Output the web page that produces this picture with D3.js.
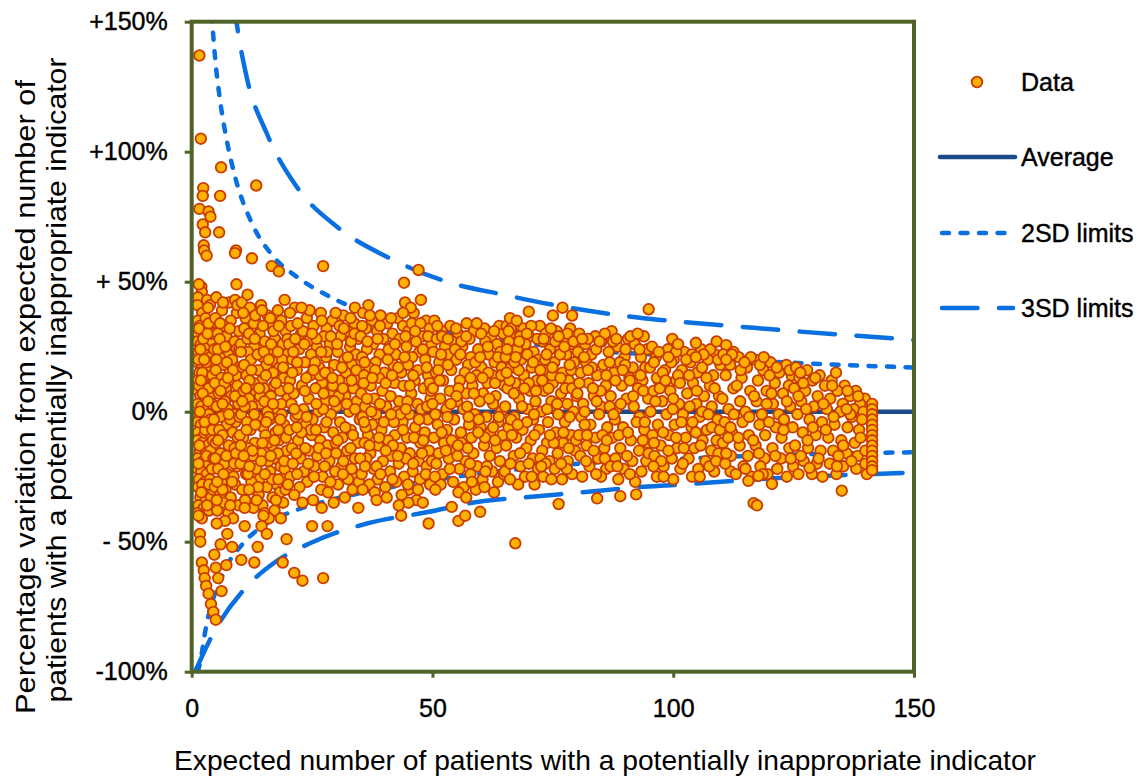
<!DOCTYPE html>
<html>
<head>
<meta charset="utf-8">
<script src="https://cdn.jsdelivr.net/npm/d3@7"></script>
<style>
body{margin:0;background:#fff;}
svg{display:block;font-family:"Liberation Sans",Arial,sans-serif;}
</style>
</head>
<body>
<script>
var xTicks = [0, 50, 100, 150];
var yTicks = [-100, -50, 0, 50, 100, 150];
var yTickLabels = ["-100%", "- 50%", "0%", "+ 50%", "+100%", "+150%"];
var legendLabels = ["Data", "Average", "2SD limits", "3SD limits"];
var xTitle = "Expected number of patients with a potentially inappropriate indicator";
var yTitle = ["Percentage variation from expected number of", "patients with a potentially inappropriate indicator"];

// [expected, % variation]
var average = [[0, 0], [150, 0]];
var upper2SD = [[3.9,160],[4.84,136.5],[5.88,119.9],[7.27,104.5],[9.0,90.4],[12.5,72.5],[17.0,59.6],[21.8,51.9],[28.7,44.2],[44.3,34],[53,30.8],[58.5,28.8],[80,24.4],[89,22.7],[98.7,21.8],[120.9,19.2],[134.7,18],[150,17]];
var upper3SD = [[8.6,160],[9.35,149.4],[11.4,128.8],[15.6,107],[21.8,86.5],[30.1,71.2],[40.5,59.6],[53,50.0],[64.7,45],[76.9,40.5],[89.3,37],[97.3,35.3],[113.9,32.7],[126.4,30.8],[138.9,29.1],[150,27.6]];
var lower2SD = [[1.2,-100],[1.7,-97],[2.76,-85],[6.6,-62],[10.7,-50.6],[15.6,-43],[21.8,-37.8],[28.7,-34],[36.4,-30.8],[50.2,-26.3],[67,-22.3],[84,-19.5],[100.1,-18.2],[120.9,-16.7],[150,-15.6]];
var lower3SD = [[0.7,-100],[4.5,-85.2],[11.4,-67.3],[17,-58.3],[25.3,-50],[36.4,-43],[49,-38.6],[60,-34.5],[70,-32.8],[81,-31],[93,-29],[100.1,-28.2],[120.9,-25.6],[150,-23.4]];

var pointsA = [[1.6,137],[1.9,105],[2.4,86],[2.3,83],[1.6,78],[3.5,77],[3.9,75],[2.3,72],[2.8,69],[2.5,64],[2.6,62],[3.1,60],[2.0,48],[2.1,46],[1.5,49],[1.3,44],[3.2,43],[3.8,41],
[1.2,41],[2.2,38],[3.4,40],[1.3,35],[1.7,33],[2.9,36],[4.1,34],[1.3,30],[2.5,31],[3.7,29],[1.2,27],[1.9,26],[3.1,25],[4.3,27],[1.4,23],[2.7,22],[3.9,21],[1.2,19],[2.1,18],[3.3,17],[4.4,19],[1.6,15],[2.8,14],[3.6,13],[1.2,12],[2.3,11],[4.0,10],[1.3,8],[3.0,8],[1.8,6],[2.6,5],[3.8,6],[1.2,3],[2.0,2],[3.2,1],[4.2,3],[1.5,-1],[2.4,-2],[3.5,-1],[1.2,-4],[1.9,-5],[3.0,-6],[4.1,-4],[1.3,-8],[2.6,-9],[3.7,-8],[1.2,-11],[2.2,-12],[3.3,-13],[4.4,-11],[1.7,-15],[2.9,-16],[3.9,-15],[1.2,-18],[2.4,-19],[3.5,-20],[1.2,-22],[2.0,-23],[3.1,-24],[4.2,-22],[1.5,-26],[2.7,-27],[3.8,-26],[1.3,-29],[2.3,-30],[3.4,-31],[1.8,-33],[2.9,-34],[4.0,-33],[1.4,-36],[2.5,-37],[3.6,-38],[1.2,-39],[2.1,-41],[1.4,-40],[1.7,-47],[1.8,-50],[2.1,-58],[2.5,-61],[2.7,-64],[3.0,-67],[3.5,-70],[4.0,-74],[4.5,-77],[5.0,-80],
[1.5,32],[2.4,28],[1.4,20],[3.0,19],[2.2,15],[1.5,10],[3.5,9],[2.3,7],[1.7,0],[3.9,-3],[2.8,-7],[1.6,-13],[3.1,-17],[2.2,-28],[3.2,-36],[4.1,30],[4.4,-30],[3.5,34],
[1.8,24],[3.3,30],[2.6,20],[4.3,14],[1.9,12],[3.4,4],[2.7,-4],[4.3,-7],[1.4,-20],[3.6,-28],[2.0,-31],[4.5,-18]];

var pointsB = [[5.1,44],[7.8,42],[6.3,39],[9.4,38],[4.9,36],[8.1,35],[6.7,33],[9.8,31],[5.4,30],[7.2,29],[8.9,27],[6.0,26],[4.7,24],[9.3,24],[7.6,22],[5.8,21],[8.4,20],[6.6,18],[9.9,17],[5.0,16],[7.9,15],[6.2,13],[8.7,12],[4.8,11],[9.5,10],[7.1,9],[5.6,7],[8.2,6],[6.9,4],[9.7,3],[5.2,2],[7.5,1],[8.8,-1],[6.1,-2],[4.6,-3],[9.1,-4],[7.3,-5],[5.7,-7],[8.5,-8],[6.4,-9],[9.6,-10],[5.0,-12],[7.7,-13],[8.9,-14],[6.0,-16],[4.9,-18],[8.3,-18],[6.8,-20],[9.4,-21],[5.5,-22],[7.4,-24],[8.7,-25],[6.2,-27],[4.8,-29],[9.0,-28],[7.0,-30],[5.9,-32],[8.1,-33],[6.5,-35],[9.7,-36],[5.3,-38],[7.6,-39],[8.6,-41],[6.9,-42],[5.4,24],[6.8,11],[8.0,-3],[7.2,-17],[5.9,34],[9.2,14],[6.4,3],[8.4,-27],[7.3,19],[5.2,-34],
[5.8,28],[7.0,25],[8.6,16],[6.0,8],[9.0,6],[7.7,-1],[5.5,-11],[9.2,-16],[6.6,-24],[8.0,-36],[7.9,32],[9.9,24],[5.1,20],[6.4,-30],[8.8,-20],[9.9,-2],[7.5,13],[5.3,-27],
[6.1,94],[5.9,83],[5.7,69],[9.2,62],[9.0,61],[9.3,49],[9.0,43],[9.5,41],[6.5,42],[5.2,-43],[7.4,-47],[6.0,-51],[8.4,-52],[4.7,-55],[7.2,-59],[5.0,-60],[5.5,-64],[6.2,-69]];

var pointsC = [[10.4,42],[14.4,41],[17.9,39],[12.1,40],[19.3,43],[15.8,37],[11.2,36],[18.6,35],[13.5,34],[16.7,33],[10.9,32],[19.5,31],[14.1,30],[12.6,29],[17.3,28],[15.2,27],[10.2,26],[18.9,26],[13.0,25],[16.1,24],[11.7,23],[19.8,22],[14.8,21],[12.3,20],[17.6,19],[15.5,18],[10.6,17],[18.2,17],[13.8,16],[16.9,15],[11.4,14],[19.1,13],[14.6,12],[12.9,11],[17.1,10],[15.0,9],[10.8,8],[18.4,8],[13.3,7],[16.4,6],[11.9,5],[19.6,4],[14.3,3],[12.5,2],[17.8,1],[15.7,0],[10.3,-1],[18.7,-1],[13.6,-2],[16.2,-3],[11.5,-4],[19.2,-5],[14.9,-6],[12.2,-7],[17.4,-8],[15.3,-9],[10.7,-10],[18.1,-11],[13.1,-12],[16.6,-13],[11.8,-14],[19.7,-15],[14.5,-16],[12.7,-17],[17.0,-18],[15.9,-19],[10.1,-20],[18.5,-21],[13.4,-22],[16.3,-23],[11.3,-24],[19.4,-25],[14.0,-26],[12.4,-27],[17.7,-28],[15.6,-29],[10.5,-30],[18.3,-31],[13.9,-32],[16.8,-33],[11.1,-34],[19.0,-35],[14.7,-36],[12.8,-37],[17.2,-38],[15.1,-39],[16.0,-41],
[11.6,28],[16.5,26],[13.7,22],[18.8,20],[10.9,18],[15.4,14],[12.0,12],[17.5,11],[14.2,6],[19.9,5],[11.0,2],[16.0,-2],[13.2,-5],[18.0,-7],[10.0,-9],[15.8,-12],[12.6,-15],[17.9,-16],[14.4,-19],[19.3,-22],[11.7,-24],[16.7,-26],[13.8,-29],[10.2,-13],[18.6,3],[12.9,34],[17.0,31],[15.1,4],[11.3,9],[19.6,-10],
[10.7,38],[13.2,37],[16.3,36],[18.1,33],[11.9,30],[15.0,23],[17.9,23],[12.4,16],[19.0,17],[14.0,9],[16.9,3],[10.5,4],[13.0,-1],[18.4,-3],[15.5,-4],[11.4,-7],[17.2,-11],[14.7,-12],[12.0,-21],[16.4,-17],[19.2,-19],[10.8,-17],[15.2,-24],[18.0,-26],[13.5,-34],[11.9,-30],[17.5,-34],[10.2,23],[14.8,33],[19.9,28],[16.0,20],[13.1,28],[11.0,-37],[19.5,-30],[14.9,-40],
[12.5,59],[13.4,87],[16.6,56],[18.1,54],[11.6,45],[14.6,39],[10.3,-57],[13.0,-58],[11.0,-44],[14.5,-44],[15.6,-47],[13.7,-52],[18.5,-41],[19.7,-49],[18.9,-58]];

var pointsD = [[21.4,40],[26.8,38],[31.5,37],[23.9,36],[29.2,35],[33.8,34],[20.6,33],[25.3,33],[28.0,32],[32.4,31],[22.7,30],[27.4,29],[30.9,29],[34.6,28],[24.1,27],[20.2,26],[28.7,26],[32.9,25],[26.0,25],[22.3,24],[30.3,23],[34.1,22],[24.8,22],[27.9,21],[20.9,20],[31.7,20],[23.5,19],[29.6,18],[33.3,18],[26.5,17],[21.8,16],[28.4,15],[32.0,15],[24.6,14],[34.8,13],[20.4,12],[30.6,12],[27.1,11],[22.9,10],[33.6,9],[25.7,9],[29.0,8],[21.2,7],[31.9,6],[24.3,5],[27.8,4],[34.3,4],[20.7,3],[30.1,2],[23.2,1],[26.3,0],[32.7,0],[28.9,-1],[21.6,-2],[34.9,-3],[25.1,-3],[30.8,-4],[23.7,-5],[27.5,-6],[33.0,-7],[20.3,-7],[29.4,-8],[24.9,-9],[31.3,-10],[22.1,-11],[26.7,-11],[34.5,-12],[28.2,-13],[20.8,-14],[32.3,-15],[24.4,-15],[30.0,-16],[26.1,-17],[22.6,-18],[33.9,-18],[28.6,-19],[21.0,-20],[31.1,-21],[25.5,-21],[23.3,-23],[29.8,-23],[34.0,-24],[27.2,-25],[20.5,-25],[32.5,-26],[24.0,-27],[30.4,-28],[22.4,-29],[26.9,-30],[33.4,-30],[28.3,-31],[21.3,-32],[31.8,-33],[25.2,-34],[23.0,-35],[29.5,-35],[27.0,-37],
[23.1,31],[30.7,33],[25.9,28],[33.1,27],[21.1,23],[28.1,23],[31.2,17],[23.8,13],[26.6,14],[34.2,16],[20.1,9],[29.3,10],[32.2,3],[22.0,-1],[27.3,1],[24.7,-7],[33.5,-9],[29.9,-12],[21.7,-16],[26.4,-14],[31.5,-19],[24.2,-20],[28.8,-27],[33.2,-22],[22.8,-8],[30.5,6],[25.6,19],[20.0,-28],[34.7,-27],[27.7,15],
[20.4,38],[24.5,39],[29.9,38],[33.0,36],[22.0,34],[27.0,35],[31.6,32],[25.0,30],[28.9,29],[21.5,28],[33.8,30],[23.4,26],[30.2,26],[26.9,23],[21.9,19],[32.4,21],[25.3,16],[29.2,13],[20.9,15],[33.2,12],[23.5,8],[27.4,7],[31.4,9],[25.9,3],[29.6,4],[21.3,1],[33.9,1],[23.9,-2],[28.0,-4],[31.9,-6],[25.8,-7],[21.8,-6],[30.3,-11],[27.9,-16],[23.6,-14],[33.0,-14],[25.4,-25],[31.4,-24],[21.9,-24],[27.6,-21],
[27.3,56],[21.3,-62],[23.0,-65],[27.3,-64],[25.0,-44],[28.2,-44],[34.6,-37],[33.9,40],[22.8,40]];

var pointsE = [[35.6,38],[39.2,37],[42.8,36],[46.1,38],[48.7,35],[37.4,35],[44.3,42],[45.5,40],[47.6,43],[37.0,37],[40.6,34],[43.9,33],[36.2,32],[49.4,32],[38.5,31],[41.7,30],[45.0,31],[47.9,29],[35.1,29],[39.8,28],[43.2,28],[46.6,27],[37.7,26],[49.8,26],[41.1,25],[44.6,25],[36.4,24],[47.3,23],[39.0,22],[42.4,22],[45.8,21],[35.4,21],[48.5,20],[38.2,19],[41.9,18],[44.9,18],[36.8,17],[47.0,16],[40.0,15],[43.5,15],[49.1,14],[35.8,14],[38.9,13],[46.3,12],[42.1,11],[37.2,10],[44.0,10],[48.2,9],[39.6,8],[35.2,7],[45.6,7],[41.3,6],[49.6,5],[37.9,5],[43.1,4],[46.9,3],[36.0,2],[40.4,2],[47.7,1],[42.7,0],[38.3,-1],[45.2,-1],[35.5,-2],[49.0,-3],[41.0,-3],[43.8,-4],[37.5,-5],[46.4,-6],[39.4,-7],[48.4,-8],[36.6,-9],[42.2,-9],[44.7,-10],[40.8,-11],[35.9,-12],[47.5,-12],[38.7,-13],[43.4,-14],[49.3,-15],[37.1,-16],[45.3,-16],[41.5,-17],[36.3,-18],[47.1,-19],[39.7,-19],[43.0,-20],[48.8,-21],[37.8,-22],[45.9,-23],[41.2,-23],[35.3,-24],[44.1,-25],[38.6,-26],[47.4,-26],[42.5,-27],[36.9,-28],[49.5,-28],[40.2,-29],[45.1,-30],[38.0,-31],[43.6,-32],[46.7,-34],[45.0,-35],[48.0,-35],
[36.5,27],[40.9,24],[44.4,29],[48.0,24],[38.1,16],[42.9,17],[46.0,14],[35.7,11],[40.3,11],[44.8,4],[48.9,2],[37.3,0],[39.9,-4],[43.3,-1],[46.2,-10],[36.1,-6],[41.8,-13],[44.5,-18],[38.4,-21],[47.8,-16],[35.0,-18],[42.0,-4],[49.7,8],[39.1,33],[45.7,34],
[35.4,33],[41.4,36],[43.9,38],[47.5,34],[38.6,28],[42.2,26],[46.4,31],[49.1,29],[35.9,19],[40.7,20],[44.2,21],[48.8,17],[37.5,13],[41.6,14],[45.3,10],[49.4,11],[36.4,5],[39.1,3],[44.5,1],[47.2,-3],[41.4,-1],[35.8,-4],[38.9,-10],[43.9,-7],[48.1,-11],[40.3,-15],[46.0,-20],[36.9,-13],[42.8,-17],[39.2,-24],[44.9,-28],[48.6,-24],[36.0,-21],[41.7,-26],[38.4,-34],[47.0,-30],[35.5,-30],[43.0,-36],[40.5,-33],[49.9,-19],
[47.1,54.5],[44.1,49.6],[43.5,-40],[49.2,-43],[36.7,41]];

var pointsF = [[50.4,35],[53.7,33],[57.1,34],[60.8,32],[63.9,33],[51.9,31],[55.3,30],[58.6,31],[62.2,29],[64.7,30],[50.9,28],[54.1,27],[57.7,28],[61.0,27],[63.4,26],[52.6,25],[56.2,25],[59.5,24],[64.1,23],[50.2,23],[53.3,22],[58.0,21],[61.7,22],[55.0,20],[62.9,19],[51.4,19],[57.4,18],[60.2,17],[64.4,17],[53.9,16],[50.7,15],[56.7,15],[59.1,14],[62.5,14],[52.2,12],[55.7,12],[61.4,11],[64.9,10],[58.3,10],[50.1,9],[53.6,8],[57.0,7],[60.5,7],[63.1,6],[51.6,5],[55.1,4],[59.8,4],[62.6,3],[52.9,1],[56.4,1],[64.3,0],[50.6,-1],[58.8,-1],[61.2,-2],[54.5,-3],[63.7,-4],[51.1,-5],[57.6,-5],[60.0,-6],[53.0,-7],[55.9,-8],[62.0,-8],[64.6,-9],[50.3,-10],[58.1,-10],[52.4,-12],[56.0,-12],[60.7,-13],[63.3,-14],[54.8,-15],[51.3,-16],[58.5,-16],[61.9,-17],[53.4,-18],[56.9,-19],[64.0,-19],[50.8,-20],[59.3,-21],[55.6,-22],[62.4,-23],[52.1,-24],[57.9,-24],[60.4,-26],[54.3,-27],[63.6,-27],[51.7,-28],[56.5,-29],[59.0,-30],[62.8,-31],
[52.0,29],[56.0,27],[60.1,30],[51.2,16],[54.7,24],[58.9,19],[63.0,11],[55.4,9],[61.6,15],[50.0,3],[57.2,2],[53.1,-2],[60.9,-10],[54.0,-11],[63.8,-2],[57.3,-14],[50.5,-25],[61.3,-21],[55.2,-17],[59.6,-3],
[51.0,33],[54.9,32],[59.2,34],[62.8,31],[53.2,28],[57.0,29],[61.5,25],[55.8,22],[59.9,21],[63.6,21],[51.8,22],[53.2,18],[57.9,13],[60.4,13],[64.3,14],[51.5,12],[55.0,6],[58.6,7],[61.8,5],[53.8,3],[57.5,-2],[62.6,-6],[51.9,-8],[55.3,-13],[59.5,-8],[63.0,-11],[52.8,-15],[57.8,-20],[61.0,-23],[53.6,-22],[58.2,-27],[64.8,-24],[50.6,-30],[55.4,-31],[60.8,-29],
[55.4,-42],[56.8,-40],[59.9,-38.5],[54.0,-36.6],[57.0,-33]];

var pointsG = [[65.4,33],[68.9,32],[72.3,33],[75.8,31],[78.6,32],[66.7,30],[70.1,29],[73.5,30],[77.2,28],[79.7,29],[65.9,27],[69.3,26],[72.9,27],[76.4,25],[79.1,26],[67.6,24],[71.0,23],[74.4,24],[77.8,22],[65.2,21],[68.4,20],[72.0,20],[75.3,19],[79.4,19],[66.3,17],[70.6,17],[73.9,16],[77.0,15],[69.0,14],[67.2,11],[71.7,12],[75.0,11],[78.3,12],[65.6,9],[70.3,8],[73.2,8],[76.7,7],[79.9,6],[68.0,5],[71.4,4],[74.7,4],[78.0,3],[65.1,2],[69.8,1],[72.6,0],[76.1,-1],[79.3,0],[67.0,-2],[70.9,-3],[74.0,-4],[77.5,-4],[65.8,-6],[68.7,-7],[72.1,-7],[75.6,-8],[78.8,-9],[67.4,-10],[70.4,-11],[73.8,-12],[77.1,-12],[65.3,-13],[69.5,-14],[72.8,-15],[76.0,-16],[79.6,-15],[66.9,-17],[70.8,-18],[74.3,-19],[78.1,-19],[68.3,-21],[71.9,-22],[75.4,-22],[65.0,-23],[69.2,-25],[73.0,-25],[76.9,-26],[79.0,-24],[67.8,-28],[71.2,-28],
[66.0,12],[74.8,14],[68.2,29],[71.5,8],[77.6,9],[73.4,20],[66.5,-9],[78.5,-2],[70.0,-20],[75.9,3],[69.6,-4],[72.4,-18],[76.5,22],[67.9,16],[79.8,-11],
[66.3,32],[70.5,33],[74.6,32],[78.0,30],[68.0,27],[71.8,28],[75.5,27],[65.5,24],[69.7,22],[73.7,22],[77.4,25],[67.0,19],[72.4,16],[78.8,16],[66.9,7],[70.0,11],[74.1,9],[79.0,9],[68.6,2],[73.8,1],[77.2,-8],[66.3,-3],[71.2,-9],[75.2,-12],[68.2,-16],[73.5,-20],[77.9,-22],[66.2,-20],[70.6,-25],[74.7,-26],
[65.8,31],[69.6,30],[73.1,28],[76.2,29],[79.3,27],[67.3,21],[70.9,19],[74.9,17],[78.5,18],[65.4,15],[69.1,9],[72.8,12],[76.6,13],[67.7,-5],[71.1,-1],[74.4,-9],[78.3,-14],[66.1,-26],[72.6,-21],[76.7,-20],
[66.1,36],[67.5,35],[70.0,38.5],[75.0,37],[77.0,40],[79.0,37],[67.2,-50.6],[76.2,-35.5]];

var pointsH = [[80.5,30],[83.8,29],[87.2,31],[90.6,28],[93.9,29],[81.7,26],[85.1,27],[88.4,25],[92.0,26],[94.6,24],[80.2,23],[83.0,22],[86.6,23],[89.9,21],[93.3,21],[81.9,19],[85.5,18],[88.9,19],[91.6,17],[94.2,17],[80.8,15],[84.2,14],[87.7,15],[90.9,13],[93.6,12],[82.4,11],[86.0,10],[89.3,10],[92.7,9],[80.1,7],[83.5,6],[87.0,6],[90.3,5],[94.8,5],[81.3,3],[85.0,2],[88.2,1],[91.8,2],[84.6,-1],[80.9,-2],[87.9,-3],[93.0,-2],[82.8,-5],[86.3,-6],[89.6,-6],[94.0,-7],[80.4,-9],[83.9,-10],[87.4,-10],[91.2,-11],[82.0,-13],[85.7,-14],[89.0,-14],[92.9,-15],[80.7,-17],[84.4,-18],[88.0,-18],[91.5,-19],[94.4,-19],[82.6,-21],[86.1,-22],[89.7,-22],[93.4,-23],[81.1,-25],[85.0,-25],[88.6,-26],[92.1,-27],
[83.1,17],[90.1,24],[86.8,2],[81.6,-5],[92.4,-4],[84.9,8],[88.7,-9],[91.0,12],[85.8,-18],[94.7,-12],
[82.3,28],[85.8,30],[91.1,29],[84.0,24],[87.5,27],[93.0,24],[81.5,21],[86.8,19],[90.0,18],[83.3,9],[88.0,12],[93.8,8],[81.6,0],[89.1,3],[85.3,-9],[90.6,-8],[83.5,-15],[93.7,-11],[87.0,-21],[84.0,-24],
[81.1,28],[84.7,27],[88.2,28],[92.6,30],[82.3,16],[86.1,14],[89.5,16],[93.2,14],[80.5,11],[84.1,4],[87.6,-1],[91.7,6],[82.1,-9],[86.2,-11],[90.4,-17],[94.1,-4],[81.9,-19],[88.4,-21],[91.0,-24],[94.9,-16],
[84.2,-33.3],[89.0,-32.5],[92.3,-31.8],[94.9,39.4]];

var pointsI = [[95.6,25],[98.9,24],[102.3,23],[105.8,24],[108.7,22],[96.4,21],[100.1,20],[103.6,19],[107.2,20],[109.8,18],[95.2,17],[98.3,16],[101.8,16],[105.0,15],[108.3,14],[97.0,12],[100.6,12],[104.1,11],[107.6,10],[95.9,8],[99.4,8],[102.9,7],[106.4,6],[109.5,6],[97.7,4],[101.2,3],[104.8,3],[108.0,2],[95.3,0],[98.6,-1],[102.0,-1],[105.5,-2],[109.2,-3],[96.8,-5],[100.3,-5],[103.8,-6],[107.0,-7],[95.7,-9],[99.1,-9],[102.6,-10],[106.1,-11],[109.0,-11],[97.4,-13],[100.8,-14],[104.4,-14],[107.9,-15],[96.1,-17],[99.7,-18],[103.2,-18],[106.7,-19],[98.0,-21],[101.5,-22],[105.2,-22],[108.5,-23],[96.6,-25],[100.0,-26],[103.9,-25],
[97.2,9],[104.0,-4],[101.0,14],[106.0,17],[99.0,-15],[108.0,-6],
[97.0,23],[100.6,23],[103.9,22],[107.7,24],[99.6,19],[96.6,13],[103.3,14],[106.9,13],[100.0,5],[106.0,0],[97.9,-8],[104.7,-8],[102.2,-14],[98.0,-25],[107.5,-21],
[96.0,19],[99.0,21],[102.7,20],[106.3,22],[109.3,20],[97.8,15],[101.4,11],[104.9,8],[108.6,9],[96.3,4],[99.9,1],[103.4,2],[107.3,-1],[96.0,-12],[100.6,-10],[105.7,-13],[109.4,-16],[97.5,-19],[102.0,-20],[105.5,-25],[109.7,-7],[98.4,12],[101.7,-4],[95.9,-21],[108.9,-19],
[99.8,28],[101.0,26],[104.7,26.5],[104.7,21],[109.0,27],[111.0,25.6],[112.5,23],[111.9,-23]];

var pointsJ = [[110.4,22],[113.6,21],[117.0,20],[120.2,19],[123.5,18],[111.8,18],[115.3,17],[118.7,16],[122.0,15],[124.6,14],[110.9,14],[114.2,13],[117.6,12],[121.1,11],[124.0,10],[112.5,9],[116.0,8],[119.4,8],[122.8,7],[110.2,5],[113.9,4],[117.3,4],[120.7,3],[124.3,2],[111.5,1],[115.0,0],[118.4,-1],[121.9,-1],[110.7,-4],[114.4,-4],[117.9,-5],[121.3,-6],[124.8,-6],[112.2,-8],[115.7,-9],[119.1,-9],[122.5,-10],[110.3,-12],[113.8,-13],[117.1,-13],[120.6,-14],[124.1,-14],[112.0,-17],[115.5,-17],[119.0,-18],[122.4,-18],[110.8,-20],[114.6,-21],[118.1,-21],[121.6,-22],[124.9,-21],[113.0,-24],[116.3,-25],
[112.2,22],[116.1,21],[114.0,16],[120.0,14],[112.6,-1],[119.4,3],[116.6,-11],[123.0,-3],[119.6,-24],[111.4,-10],
[111.0,20],[114.8,19],[118.0,18],[121.5,17],[124.2,16],[113.2,10],[116.8,6],[120.4,7],[123.6,4],[111.9,-6],[115.8,-2],[119.9,-4],[122.9,-7],[113.5,-10],[117.8,-16],[121.2,-17],[124.4,-18],[111.0,-16],[115.0,-22],[118.6,-24],
[116.7,-35.2],[117.4,-36],[120.5,-27.8],[115.6,-26.6],[117.7,-24.7],[123.6,-25],[118.8,21]];

var pointsK = [[125.5,17],[127.8,16],[130.4,14],[132.9,12],[135.6,10],[137.9,8],[139.8,5],[126.2,13],[128.9,12],[131.5,10],[134.1,8],[136.7,6],[138.8,3],[125.1,9],[127.4,8],[130.0,6],[132.6,5],[135.2,3],[137.5,1],[139.5,0],[126.6,4],[129.2,2],[131.9,1],[134.7,0],[137.1,-2],[139.2,-3],[125.8,-1],[128.3,-3],[130.9,-4],[133.5,-5],[136.2,-6],[138.6,-7],[126.9,-8],[129.6,-9],[132.2,-10],[134.9,-11],[137.7,-12],[125.3,-13],[128.0,-14],[130.6,-15],[133.2,-15],[136.0,-16],[138.3,-17],[127.1,-19],[129.8,-20],[132.5,-20],[135.3,-21],[138.0,-22],[126.0,-24],[131.0,-25],
[127.0,11],[133.8,15],[129.0,-6],[134.3,-17],[136.8,-1],[128.8,-24],
[126.4,15],[129.5,13],[133.0,10],[136.2,8],[138.4,6],[126.0,6],[131.2,3],[136.0,1],[127.6,1],[133.3,-2],[138.9,-10],[131.7,-7],[135.3,-13],[127.9,-11],[130.2,-18],[137.0,-19],[126.5,-17],[133.9,-24],[139.9,-15],[139.9,-20],
[135.0,-30.4],[140.2,-24],[128.3,-21.6],[134.0,-21]];

var pointsEdge = [[141.3,3],[141.3,1],[141.3,-1],[141.3,-3],[141.3,-5],[141.3,-7],[141.3,-9],[141.3,-11],[141.3,-13],[141.3,-15],[141.3,-17],[141.3,-19],[141.3,-21],[141.3,-22.5]];

var config = {
	width: 1138,
	height: 776,
	left: 191.7,
	top: 21.7,
	plotWidth: 722.3,
	plotHeight: 650,
	frame: "#4f6228",
	avgColor: "#1a4a8a",
	limitColor: "#0a6fe0",
	fill: "#ffb000",
	stroke: "#c83c00",
	radius: 5.3
};

function addSvg(){
	return d3.select("body")
		.append("svg")
		.attr("width", config.width)
		.attr("height", config.height);
}

function makeScales(){
	return {
		x: d3.scaleLinear().domain([0, 150]).range([config.left, config.left + config.plotWidth]),
		y: d3.scaleLinear().domain([-100, 150]).range([config.top + config.plotHeight, config.top])
	};
}

function drawAxes(svg, s){
	var yAxis = d3.axisLeft(s.y)
		.tickValues(yTicks)
		.tickSize(7)
		.tickPadding(17)
		.tickFormat(function(d, i){ return yTickLabels[i]; });
	var xAxis = d3.axisBottom(s.x)
		.tickValues(xTicks)
		.tickSize(6)
		.tickPadding(22)
		.tickFormat(d3.format("d"));

	var gy = svg.append("g").attr("transform", "translate(" + config.left + ",0)").call(yAxis);
	var gx = svg.append("g").attr("transform", "translate(0," + (config.top + config.plotHeight) + ")").call(xAxis);

	[gx, gy].forEach(function(g){
		g.select(".domain").remove();
		g.selectAll(".tick line").attr("stroke", config.frame).attr("stroke-width", 3);
		g.selectAll(".tick text")
			.attr("fill", "#000")
			.attr("stroke", "#000")
			.attr("stroke-width", 0.4)
			.style("font-size", "25px")
			.style("font-family", "'Liberation Sans', Arial, sans-serif");
	});
}

function drawLines(svg, s){
	svg.append("clipPath").attr("id", "plot-clip")
		.append("rect")
		.attr("x", config.left).attr("y", config.top)
		.attr("width", config.plotWidth).attr("height", config.plotHeight);

	var line = d3.line()
		.x(function(d){ return s.x(d[0]); })
		.y(function(d){ return s.y(d[1]); })
		.curve(d3.curveMonotoneX);

	var g = svg.append("g").attr("clip-path", "url(#plot-clip)");

	g.append("path").datum(average)
		.attr("d", line).attr("fill", "none")
		.attr("stroke", config.avgColor).attr("stroke-width", 4.5);

	[upper2SD, lower2SD].forEach(function(arr){
		g.append("path").datum(arr)
			.attr("d", line).attr("fill", "none")
			.attr("stroke", config.limitColor).attr("stroke-width", 4.5)
			.attr("stroke-linecap", "round")
			.attr("stroke-dasharray", "7,11.5");
	});

	[upper3SD, lower3SD].forEach(function(arr){
		g.append("path").datum(arr)
			.attr("d", line).attr("fill", "none")
			.attr("stroke", config.limitColor).attr("stroke-width", 4.5)
			.attr("stroke-linecap", "round")
			.attr("stroke-dasharray", "35.5,21.5");
	});
}

function drawPoints(svg, s){
	var all = [].concat(pointsA, pointsB, pointsC, pointsD, pointsE, pointsF, pointsG, pointsH, pointsI, pointsJ, pointsK, pointsEdge);
	svg.append("g")
		.selectAll("circle")
		.data(all)
		.enter()
		.append("circle")
		.attr("cx", function(d){ return s.x(d[0]); })
		.attr("cy", function(d){ return s.y(d[1]); })
		.attr("r", config.radius)
		.attr("fill", config.fill)
		.attr("stroke", config.stroke)
		.attr("stroke-width", 1.8);
}

function drawFrame(svg){
	svg.append("rect")
		.attr("x", config.left).attr("y", config.top)
		.attr("width", config.plotWidth).attr("height", config.plotHeight)
		.attr("fill", "none")
		.attr("stroke", config.frame)
		.attr("stroke-width", 4);
}

function drawTitles(svg){
	svg.append("text")
		.attr("x", 174).attr("y", 770)
		.attr("textLength", 862)
		.attr("lengthAdjust", "spacingAndGlyphs")
		.style("font-size", "28px")
		.text(xTitle);

	var lens = [634, 645];
	var centers = [397, 380];
	var bases = [35, 66];
	yTitle.forEach(function(t, i){
		svg.append("text")
			.attr("transform", "translate(" + bases[i] + "," + centers[i] + ") rotate(-90)")
			.attr("text-anchor", "middle")
			.attr("textLength", lens[i])
			.attr("lengthAdjust", "spacingAndGlyphs")
			.style("font-size", "28px")
			.text(t);
	});
}

function drawLegend(svg){
	var rows = [82, 157, 233, 308];
	var g = svg.append("g");

	g.append("circle")
		.attr("cx", 977).attr("cy", rows[0]).attr("r", config.radius)
		.attr("fill", config.fill).attr("stroke", config.stroke).attr("stroke-width", 1.8);

	g.append("line")
		.attr("x1", 940).attr("x2", 1015).attr("y1", rows[1]).attr("y2", rows[1])
		.attr("stroke", config.avgColor).attr("stroke-width", 4.5).attr("stroke-linecap", "round");
	g.append("line")
		.attr("x1", 942).attr("x2", 1013).attr("y1", rows[2]).attr("y2", rows[2])
		.attr("stroke", config.limitColor).attr("stroke-width", 4.5)
		.attr("stroke-linecap", "round").attr("stroke-dasharray", "7,11.5");
	g.append("line")
		.attr("x1", 942).attr("x2", 1013).attr("y1", rows[3]).attr("y2", rows[3])
		.attr("stroke", config.limitColor).attr("stroke-width", 4.5)
		.attr("stroke-linecap", "round").attr("stroke-dasharray", "35.5,21.5");

	legendLabels.forEach(function(label, i){
		g.append("text")
			.attr("x", 1021).attr("y", rows[i])
			.attr("dy", "0.35em")
			.attr("stroke", "#000")
			.attr("stroke-width", 0.4)
			.style("font-size", "25px")
			.text(label);
	});
}

function plotGraph(){
	var svg = addSvg();
	var s = makeScales();
	drawLines(svg, s);
	drawPoints(svg, s);
	drawFrame(svg);
	drawAxes(svg, s);
	drawTitles(svg);
	drawLegend(svg);
}

plotGraph();
</script>
</body>
</html>
